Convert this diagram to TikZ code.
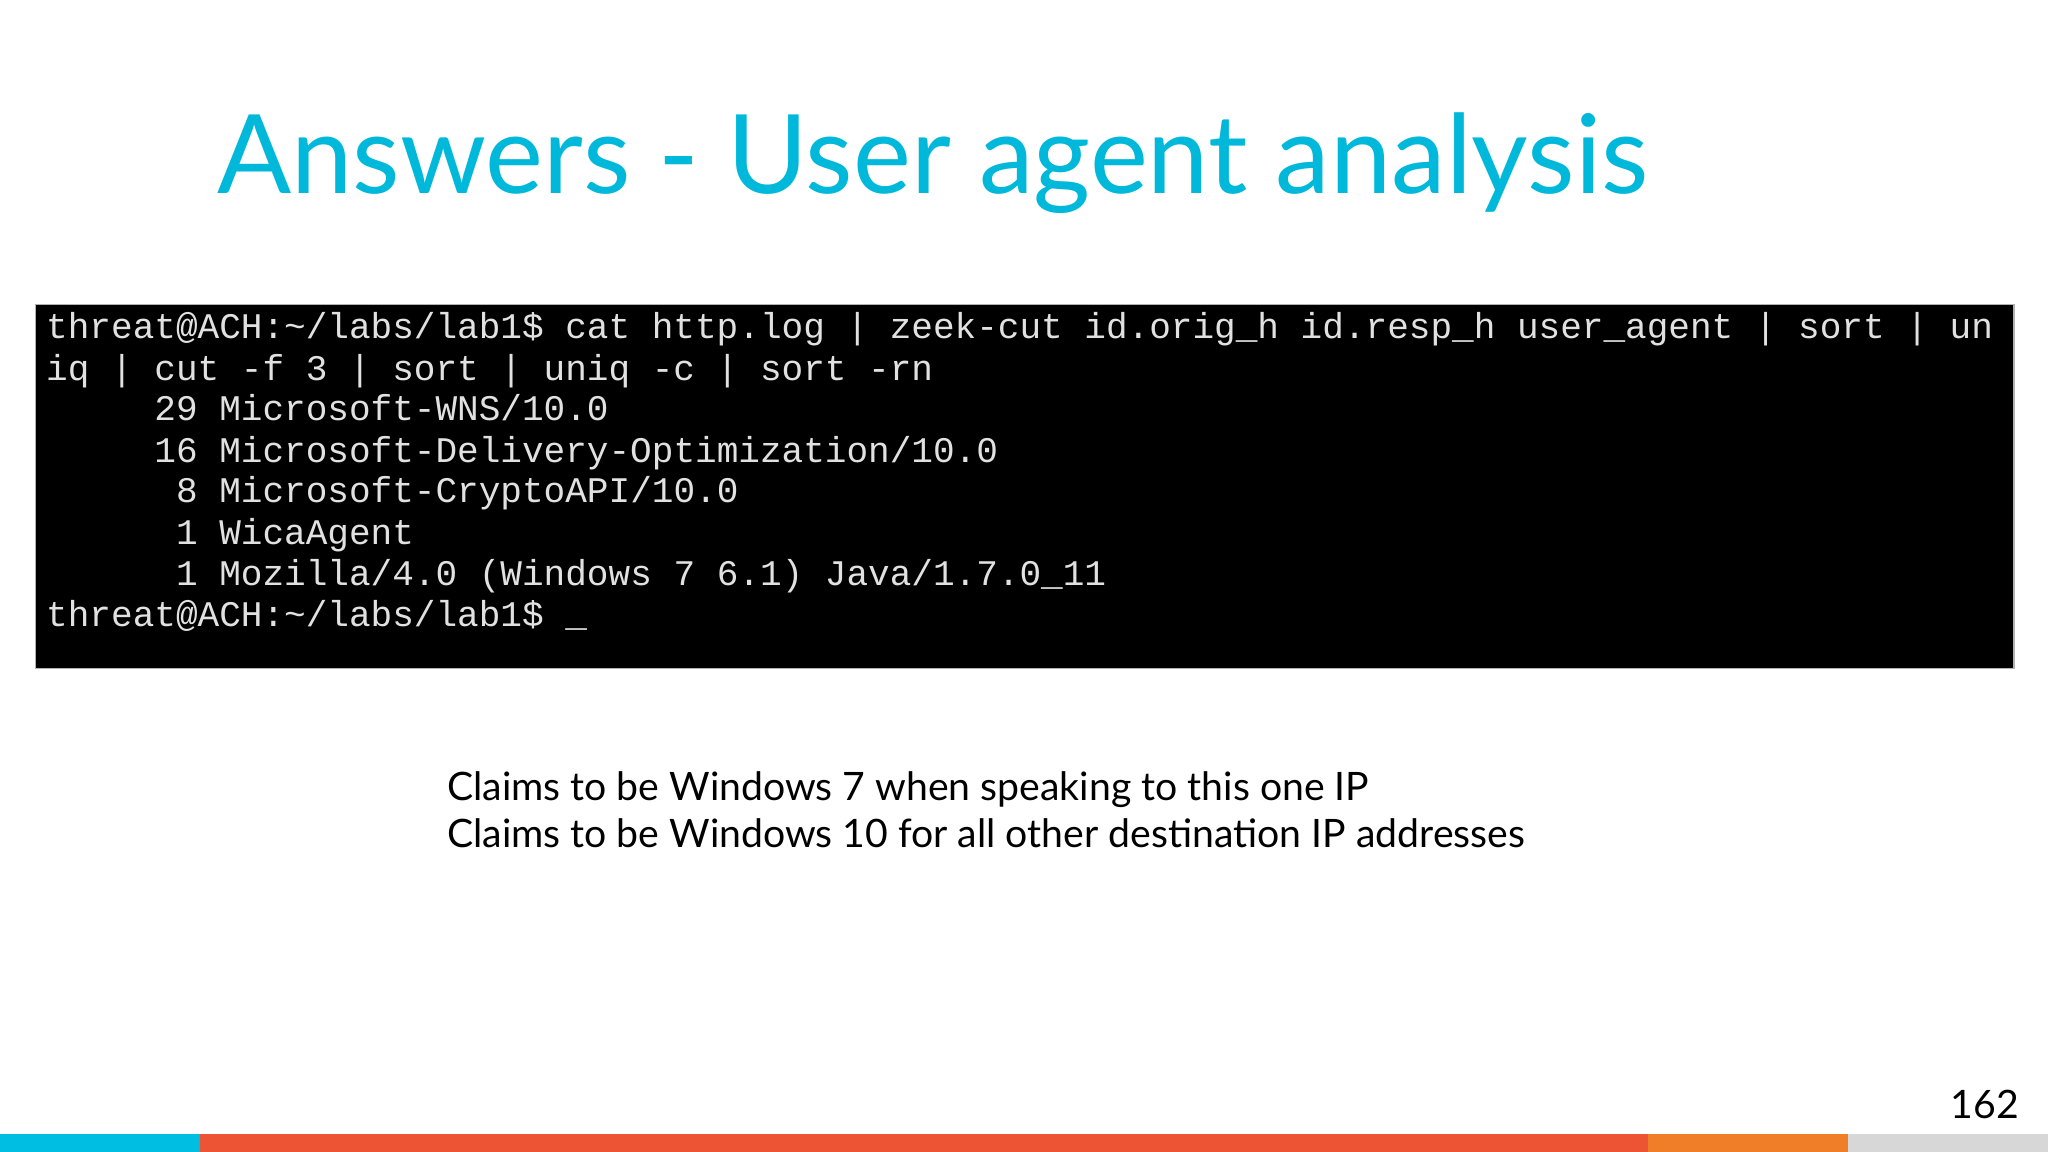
\documentclass[tikz,border=0pt]{standalone}
\usepackage{fontspec}
\setmainfont{Lato}
\newfontfamily\termfont{Liberation Mono}
\definecolor{titlecyan}{RGB}{0,184,218}
\definecolor{barcyan}{RGB}{0,190,225}
\definecolor{barred}{RGB}{236,84,52}
\definecolor{barorange}{RGB}{240,126,40}
\definecolor{bargray}{RGB}{215,215,215}
\definecolor{termtext}{RGB}{225,225,225}
\begin{document}
\begin{tikzpicture}[x=0.5pt,y=-0.5pt,
  termline/.style={anchor=base west,inner sep=0,font=\termfont\fontsize{13.8}{16}\selectfont,text=termtext},
  body/.style={anchor=base west,inner sep=0,font=\fontsize{15}{18}\selectfont,text=black}]
\useasboundingbox (0,0) rectangle (1568,882);
\fill[white] (0,0) rectangle (1568,882);
\node[anchor=base west,inner sep=0,text=titlecyan,font=\fontsize{42}{50}\selectfont] (title) at (166,148) {Answers - User agent analysis};
\fill[black] (27,233) rectangle (1542,512);
\draw[gray!60,line width=0.5pt] (27,233) rectangle (1542,512);
\node[termline] (l1) at (35,259) {threat@ACH:\string~/labs/lab1\$ cat http.log | zeek-cut id.orig\_h id.resp\_h user\_agent | sort | un};
\node[termline] (l2) at (35,291) {iq | cut -f 3 | sort | uniq -c | sort -rn};
\node[termline] (l3) at (35,322) {\ \ \ \ \ 29 Microsoft-WNS/10.0};
\node[termline] (l4) at (35,354) {\ \ \ \ \ 16 Microsoft-Delivery-Optimization/10.0};
\node[termline] (l5) at (35,385) {\ \ \ \ \ \ 8 Microsoft-CryptoAPI/10.0};
\node[termline] (l6) at (35,417) {\ \ \ \ \ \ 1 WicaAgent};
\node[termline] (l7) at (35,448) {\ \ \ \ \ \ 1 Mozilla/4.0 (Windows 7 6.1) Java/1.7.0\_11};
\node[termline] (l8) at (35,480) {threat@ACH:\string~/labs/lab1\$ \_};
\node[body] (b1) at (342,613) {Claims to be Windows 7 when speaking to this one IP};
\node[body] (b2) at (342,649) {Claims to be Windows 10 for all other destination IP addresses};
\node[anchor=base east,inner sep=0,font=\fontsize{15}{18}\selectfont] (pg) at (1546,856) {162};
\fill[barcyan] (0,868) rectangle (153,882);
\fill[barred] (153,868) rectangle (1262,882);
\fill[barorange] (1262,868) rectangle (1415,882);
\fill[bargray] (1415,868) rectangle (1568,882);
\end{tikzpicture}
\end{document}
